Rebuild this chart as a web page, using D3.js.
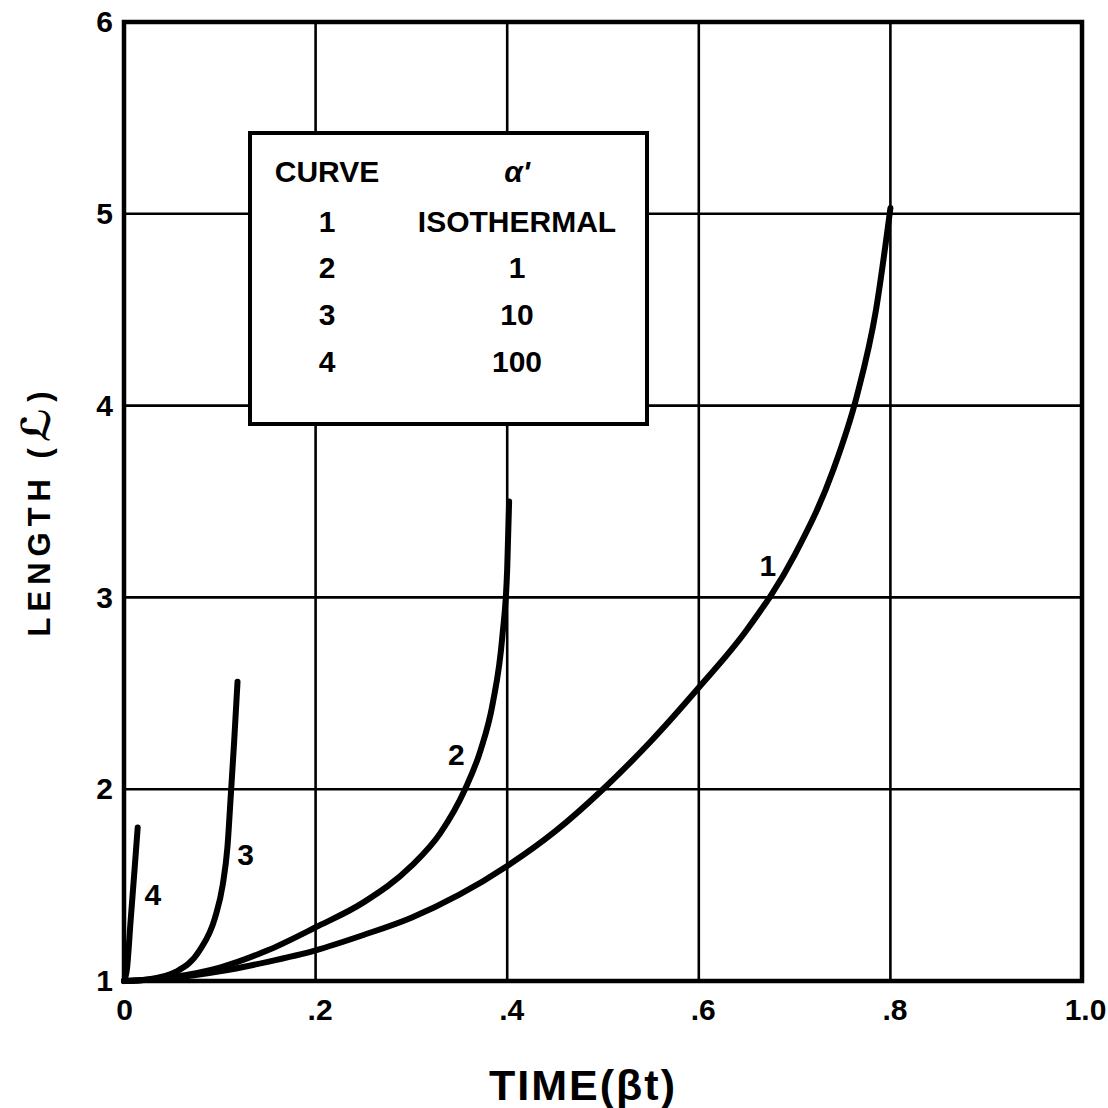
<!DOCTYPE html>
<html>
<head>
<meta charset="utf-8">
<script src="https://cdn.jsdelivr.net/npm/d3@7"></script>
<style>
  html, body { margin: 0; padding: 0; background: #fff; }
  svg { display: block; }
  text { font-family: "Liberation Sans", Arial, "DejaVu Sans", sans-serif; font-weight: bold; fill: #000; }
</style>
</head>
<body>
<script>
// Growth of length L with dimensionless time βt for several values of α'
const xTickValues = [0, 0.2, 0.4, 0.6, 0.8, 1.0];
const xTickLabels = ["0", ".2", ".4", ".6", ".8", "1.0"];
const yTickValues = [1, 2, 3, 4, 5, 6];
const yTickLabels = ["1", "2", "3", "4", "5", "6"];

// Curve 1 (isothermal)
const curve1T = [0, 0.05, 0.1, 0.15, 0.2, 0.25, 0.3, 0.35, 0.4, 0.45, 0.5, 0.55, 0.6, 0.65, 0.7, 0.74, 0.765, 0.785, 0.80];
const curve1L = [1, 1.015, 1.05, 1.10, 1.16, 1.24, 1.33, 1.45, 1.60, 1.78, 2.0, 2.25, 2.53, 2.83, 3.22, 3.66, 4.05, 4.5, 5.03];
// Curve 2 (α' = 1)
const curve2T = [0, 0.05, 0.1, 0.15, 0.2, 0.25, 0.3, 0.33, 0.356, 0.372, 0.385, 0.395, 0.4, 0.402];
const curve2L = [1, 1.02, 1.07, 1.16, 1.28, 1.41, 1.60, 1.77, 2.0, 2.2, 2.45, 2.8, 3.15, 3.5];
// Curve 3 (α' = 10)
const curve3T = [0, 0.025, 0.055, 0.079, 0.095, 0.103, 0.108, 0.1115, 0.115, 0.1185];
const curve3L = [1, 1.008, 1.05, 1.16, 1.33, 1.50, 1.70, 1.97, 2.25, 2.56];
// Curve 4 (α' = 100)
const curve4T = [0, 0.003, 0.007, 0.011, 0.0143];
const curve4L = [1, 1.06, 1.32, 1.58, 1.80];

const curveNames = ["1", "2", "3", "4"];
const curveLabelT = [0.672, 0.347, 0.127, 0.030];
const curveLabelL = [3.17, 2.18, 1.66, 1.45];

const legendHeader = ["CURVE", "α'"];
const legendCurves = ["1", "2", "3", "4"];
const legendAlpha = ["ISOTHERMAL", "1", "10", "100"];

const W = 1108, H = 1108;
const svg = d3.select("body").append("svg").attr("width", W).attr("height", H);
svg.append("rect").attr("width", W).attr("height", H).attr("fill", "#fff");

const x = d3.scaleLinear().domain([0, 1]).range([124, 1082]);
const y = d3.scaleLinear().domain([1, 6]).range([981, 22]);

// grid
const grid = svg.append("g").attr("stroke", "#000").attr("stroke-width", 2.6);
grid.selectAll("line.gx").data(xTickValues.slice(1, -1)).join("line")
  .attr("x1", d => x(d)).attr("x2", d => x(d)).attr("y1", y(1)).attr("y2", y(6));
grid.selectAll("line.gy").data(yTickValues.slice(1, -1)).join("line")
  .attr("x1", x(0)).attr("x2", x(1)).attr("y1", d => y(d)).attr("y2", d => y(d));

// frame
svg.append("rect").attr("x", x(0)).attr("y", y(6))
  .attr("width", x(1) - x(0)).attr("height", y(1) - y(6))
  .attr("fill", "none").attr("stroke", "#000").attr("stroke-width", 4.5);

// axes
const xAxis = d3.axisBottom(x).tickValues(xTickValues)
  .tickFormat((d, i) => xTickLabels[i]).tickSize(0).tickPadding(18);
const gx = svg.append("g").attr("transform", `translate(0,${y(1)})`).call(xAxis);
gx.select(".domain").remove();
gx.selectAll("text").attr("font-size", 30).attr("font-family", null)
  .attr("dx", (d, i) => xTickLabels[i].startsWith(".") ? 4 : (i === xTickLabels.length - 1 ? 3 : 0));

const yAxis = d3.axisLeft(y).tickValues(yTickValues)
  .tickFormat((d, i) => yTickLabels[i]).tickSize(0).tickPadding(11);
const gy = svg.append("g").attr("transform", `translate(${x(0)},0)`).call(yAxis);
gy.select(".domain").remove();
gy.selectAll("text").attr("font-size", 30).attr("font-family", null);

// axis titles
svg.append("text").attr("x", 583).attr("y", 1100).attr("text-anchor", "middle")
  .attr("font-size", 43).attr("letter-spacing", 2).text("TIME(βt)");
const yTitle = svg.append("text").attr("transform", "translate(50,511) rotate(-90)")
  .attr("text-anchor", "middle").attr("font-size", 31).attr("letter-spacing", 6);
yTitle.append("tspan").text("LENGTH (");
yTitle.append("tspan").attr("font-size", 40).attr("font-family", "DejaVu Sans").text("ℒ");
yTitle.append("tspan").text(")");

// legend table
const lg = svg.append("g");
lg.append("rect").attr("x", 250).attr("y", 133).attr("width", 397).attr("height", 291)
  .attr("fill", "#fff").attr("stroke", "#000").attr("stroke-width", 4);
const rowBase = [182, 232, 278, 325, 372];
const col1 = 327, col2 = 517;
lg.append("text").attr("x", col1).attr("y", rowBase[0]).attr("text-anchor", "middle")
  .attr("font-size", 30).text(legendHeader[0]);
lg.append("text").attr("x", col2).attr("y", rowBase[0]).attr("text-anchor", "middle")
  .attr("font-size", 30).attr("font-style", "italic").text(legendHeader[1]);
legendCurves.forEach((c, i) => {
  lg.append("text").attr("x", col1).attr("y", rowBase[i + 1]).attr("text-anchor", "middle")
    .attr("font-size", 30).text(c);
  lg.append("text").attr("x", col2).attr("y", rowBase[i + 1]).attr("text-anchor", "middle")
    .attr("font-size", 30).text(legendAlpha[i]);
});

// curves
const series = [
  [curve1T, curve1L], [curve2T, curve2L], [curve3T, curve3L], [curve4T, curve4L]
];
const line = d3.line().x(d => x(d[0])).y(d => y(d[1])).curve(d3.curveMonotoneX);
svg.append("g").selectAll("path").data(series).join("path")
  .attr("d", s => line(s[0].map((t, i) => [t, s[1][i]])))
  .attr("fill", "none").attr("stroke", "#000").attr("stroke-width", 6)
  .attr("stroke-linejoin", "round").attr("stroke-linecap", "round");

// curve numbers
svg.append("g").selectAll("text").data(curveNames).join("text")
  .attr("x", (d, i) => x(curveLabelT[i])).attr("y", (d, i) => y(curveLabelL[i]))
  .attr("text-anchor", "middle").attr("dy", "0.36em").attr("font-size", 30)
  .text(d => d);
</script>
</body>
</html>
